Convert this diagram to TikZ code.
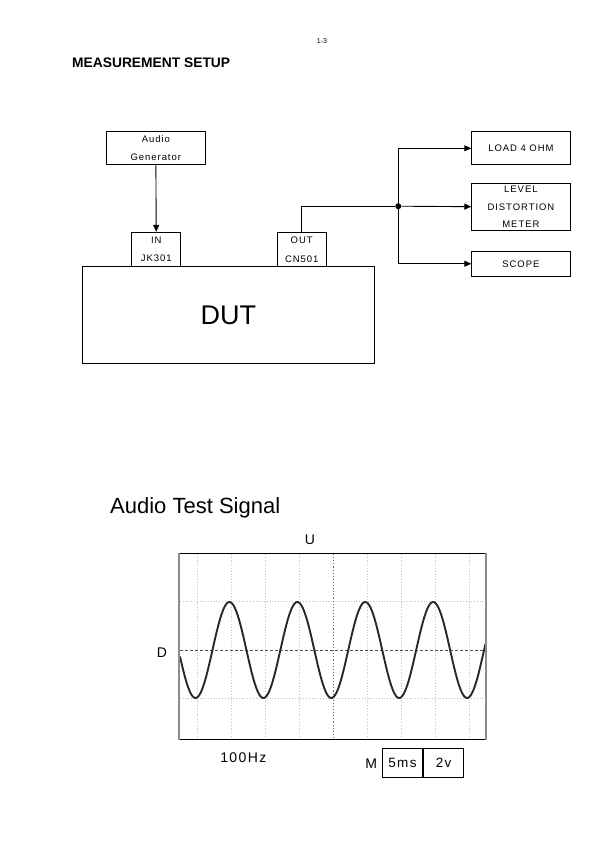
\documentclass[tikz,border=0pt]{standalone}
\usepackage{fontspec}
\setmainfont{Liberation Sans}
\newfontfamily\dlgfont[LetterSpace=10]{Liberation Sans}
\usetikzlibrary{arrows.meta,positioning}
\definecolor{Ink}{RGB}{0,0,0}
\definecolor{Grid}{RGB}{190,190,190}
\definecolor{Trace}{RGB}{40,40,40}
\definecolor{Bezel}{RGB}{140,140,140}
\tikzset{
  unitbox/.style={draw=Ink,line width=0.9pt,fill=white,inner sep=0pt,align=center,font=\dlgfont\fontsize{9.5}{17.5}\selectfont},
  jackbox/.style={unitbox,minimum width=49pt,minimum height=34.4pt,font=\dlgfont\fontsize{9.5}{18.5}\selectfont},
  junction/.style={circle,fill=Ink,inner sep=0pt,minimum size=6pt},
  wire/.style={line width=0.9pt,draw=Ink},
  feed/.style={wire,-{Triangle[length=7pt,width=6pt]}},
  gridline/.style={draw=Grid,line width=0.8pt,dotted},
  trace/.style={draw=Trace,line width=1.9pt},
  scopelabel/.style={inner sep=0pt,font=\dlgfont\fontsize{14}{16}\selectfont},
  readout/.style={draw=Ink,line width=0.8pt,inner sep=0pt,minimum width=40.3pt,minimum height=29pt,font=\dlgfont\fontsize{13.5}{16}\selectfont}
}
\begin{document}
\begin{tikzpicture}[x=1pt,y=-1pt]
\useasboundingbox (0,0) rectangle (595,842);
\node[font=\fontsize{7}{8}\selectfont] (pageno) at (322,41) {1-3};
\node[anchor=west,inner sep=0pt,font=\bfseries\fontsize{13.8}{16}\selectfont] (heading) at (72,63) {MEASUREMENT SETUP};
% setup
\node[unitbox,minimum width=292pt,minimum height=96.7pt,font=\fontsize{27}{30}\selectfont] (dut) at (228.3,315) {DUT};
\node[jackbox] (jin) at (156.3,249.5) {IN\\JK301};
\node[jackbox] (jout) at (301.7,249.5) {OUT\\CN501};
\node[unitbox,minimum width=98.3pt,minimum height=33.3pt] (gen) at (155.8,148.3) {Audio\\Generator};
\node[unitbox,minimum width=98.3pt,minimum height=33.3pt] (load) at (520.9,148.3) {LOAD 4 OHM};
\node[unitbox,minimum width=98.3pt,minimum height=47.7pt,below=17.3pt of load] (meter) {LEVEL\\DISTORTION\\METER};
\node[unitbox,minimum width=98.3pt,minimum height=25pt,below=19.5pt of meter] (scopebox) {SCOPE};
\node[junction] (jct) at (398.3,206.2) {};
\draw[feed] (gen) -- (jin);
\draw[wire] (jout.north) |- (jct);
\draw[feed] (jct) -- (meter);
\draw[feed] (jct) |- (load);
\draw[feed] (jct) |- (scopebox);
% test signal
\node[anchor=west,inner sep=0pt,font=\fontsize{22}{26}\selectfont] (sigtitle) at (110,508) {Audio Test Signal};
\fill[white] (179.3,553) rectangle (486,739);
\foreach \k in {-4,-3,-2,-1,1,2,3,4}
  \draw[gridline] (333.3+34*\k,554) -- (333.3+34*\k,738);
\foreach \yy in {601.7,698.3}
  \draw[gridline] (180,\yy) -- (485,\yy);
\draw[draw=Trace!70,line width=1.1pt,dotted] (333.3,554) -- (333.3,738);
\draw[draw=Trace!80,line width=0.7pt,dash pattern=on 3pt off 2pt] (180,650) -- (485,650);
\draw[trace] plot[domain=180:485.5,samples=240,smooth] (\x,{650+48*cos((\x-195.5)*5.3019)});
\draw[draw=Ink,line width=1pt] (179.3,553) -- (486,553) (179.3,739) -- (486,739);
\draw[draw=Bezel,line width=1.8pt] (179.3,552.5) -- (179.3,739.5) (486,552.5) -- (486,739.5);
\node[scopelabel] (ulab) at (310,540) {U};
\node[scopelabel] (dlab) at (162,653) {D};
\node[scopelabel] (freq) at (243.3,758) {100Hz};
\node[scopelabel] (mlab) at (371.3,763.5) {M};
\node[readout] (tdiv) at (402.5,762.8) {5ms};
\node[readout,anchor=west] (vdiv) at (tdiv.east) {2v};
\end{tikzpicture}
\end{document}
